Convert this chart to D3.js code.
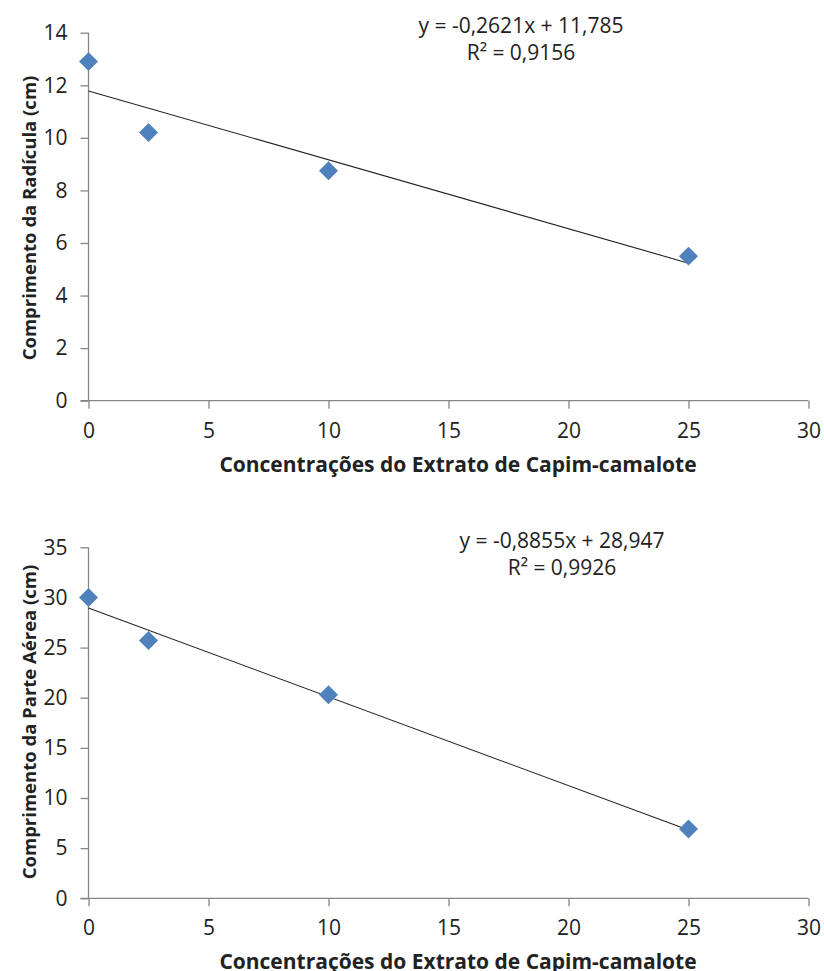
<!DOCTYPE html>
<html>
<head>
<meta charset="utf-8">
<script src="https://cdn.jsdelivr.net/npm/d3@7"></script>
<style>
  body { margin: 0; background: #fff; }
  svg text { font-family: "Open Sans", sans-serif; fill: #222; }
</style>
</head>
<body>
<svg id="chart" width="824" height="971"></svg>
<script>
// concentrations of extract (x)
const concentrations = [0, 2.5, 10, 25];
// root length (cm)
const radicula = [12.9, 10.2, 8.75, 5.5];
// shoot length (cm)
const parteAerea = [30.0, 25.7, 20.3, 6.9];

const xTicks = [0, 5, 10, 15, 20, 25, 30];
const yTicksTop = [0, 2, 4, 6, 8, 10, 12, 14];
const yTicksBottom = [0, 5, 10, 15, 20, 25, 30, 35];

const fitTop = { slope: -0.2621, intercept: 11.785, label: "y = -0,2621x + 11,785", r2: "R² = 0,9156" };
const fitBottom = { slope: -0.8855, intercept: 28.947, label: "y = -0,8855x + 28,947", r2: "R² = 0,9926" };

const xTitle = "Concentrações do Extrato de Capim-camalote";

const svg = d3.select("#chart");

const drawPanel = (cfg) => {
  const g = svg.append("g");

  const x = d3.scaleLinear().domain([0, 30]).range([88.5, 808.5]);
  const y = d3.scaleLinear().domain([0, d3.max(cfg.yTicks)]).range([cfg.bottom, cfg.top]);

  // axes
  const yAxis = d3.axisLeft(y).tickValues(cfg.yTicks).tickSize(8).tickPadding(13);
  const xAxis = d3.axisBottom(x).tickValues(xTicks).tickSize(8).tickPadding(14);

  const ya = g.append("g").attr("transform", `translate(${x(0)},0)`).call(yAxis);
  const xa = g.append("g").attr("transform", `translate(0,${y(0)})`).call(xAxis);

  [ya, xa].forEach(a => {
    a.selectAll("path, line").attr("stroke", "#868686").attr("stroke-width", 1.3);
    a.selectAll("text").style("font-size", "21px").style("font-family", "'Open Sans', sans-serif").attr("fill", "#222");
  });
  ya.select(".domain").attr("d", `M0,${y(0)}V${cfg.top}`);
  xa.select(".domain").attr("d", `M${x(0) - 8},0H${x(30)}`);

  // trendline
  const xs = d3.extent(concentrations);
  g.append("line")
    .attr("x1", x(xs[0])).attr("y1", y(cfg.fit.intercept + cfg.fit.slope * xs[0]))
    .attr("x2", x(xs[1])).attr("y2", y(cfg.fit.intercept + cfg.fit.slope * xs[1]))
    .attr("stroke", "#222").attr("stroke-width", 1.1);

  // markers
  const diamond = d3.symbol().type(d3.symbolSquare).size(180);
  g.selectAll(".pt")
    .data(concentrations.map((c, i) => [c, cfg.values[i]]))
    .enter()
    .append("path")
    .attr("d", diamond)
    .attr("transform", d => `translate(${x(d[0])},${y(d[1])}) rotate(45)`)
    .attr("fill", "#4F81BD");

  // equation
  g.append("text").attr("x", cfg.eqX).attr("y", cfg.eqY)
    .attr("text-anchor", "middle").style("font-size", "21px").text(cfg.fit.label);
  g.append("text").attr("x", cfg.eqX).attr("y", cfg.eqY + 27)
    .attr("text-anchor", "middle").style("font-size", "21px").text(cfg.fit.r2);

  // axis titles
  g.append("text")
    .attr("transform", `translate(36,${cfg.yTitleY}) rotate(-90)`)
    .attr("text-anchor", "middle").style("font-size", "18.5px").style("font-weight", "bold")
    .text(cfg.yTitle);
  g.append("text")
    .attr("x", 458).attr("y", cfg.bottom + 71)
    .attr("text-anchor", "middle").style("font-size", "21px").style("font-weight", "bold")
    .text(xTitle);
};

drawPanel({
  values: radicula, yTicks: yTicksTop, top: 32.7, bottom: 400.7,
  fit: fitTop, eqX: 521, eqY: 33, yTitle: "Comprimento da Radícula (cm)", yTitleY: 218
});

drawPanel({
  values: parteAerea, yTicks: yTicksBottom, top: 547.3, bottom: 898.3,
  fit: fitBottom, eqX: 562, eqY: 548, yTitle: "Comprimento da Parte Aérea (cm)", yTitleY: 722
});
</script>
</body>
</html>
